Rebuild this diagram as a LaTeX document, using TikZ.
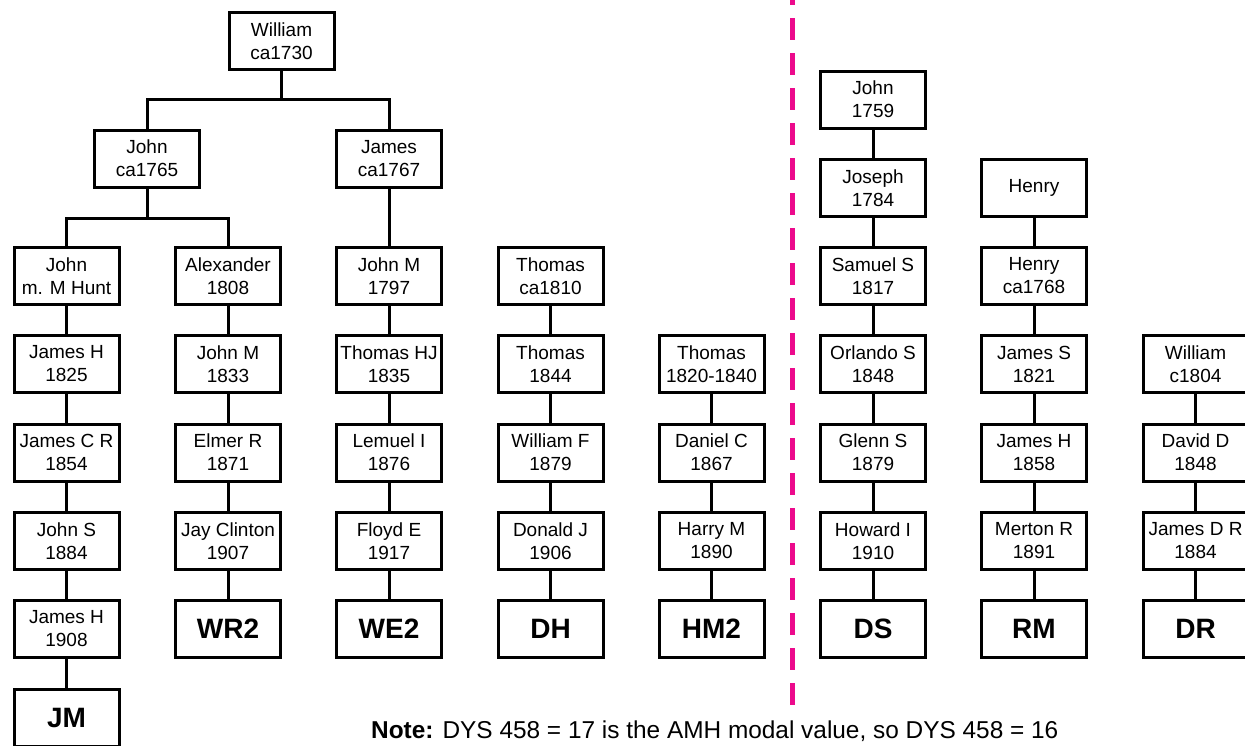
\documentclass[tikz,border=0pt]{standalone}
\usepackage{fontspec}
\setmainfont{Liberation Sans}
\definecolor{divpink}{HTML}{EC0A8C}
\begin{document}
\begin{tikzpicture}[x=1pt,y=-1pt,
  pbox/.style={draw, line width=3pt, minimum width=105pt, minimum height=57pt, inner sep=0pt, align=center, font=\fontsize{19}{23}\selectfont},
  tbox/.style={pbox, font=\bfseries\fontsize{28}{30}\selectfont},
  link/.style={line width=3pt}]
\useasboundingbox (0,0) rectangle (1245,745);
% column and row positions
\def\ca{66.5}\def\cb{228}\def\cc{389}\def\cd{550.5}\def\ce{711.5}\def\cf{873}\def\cg{1034}\def\ch{1195.5}
\def\rc{276}\def\rd{364}\def\re{452.5}\def\rf{541}\def\rg{629}\def\rh{717.5}
% top of tree
\node[pbox] (will) at (281.5,41) {William\\ca1730};
\node[pbox] (j65) at (147,158.5) {John\\ca1765};
\node[pbox] (j67) at (389,158.5) {James\\ca1767};
% column 1
\node[pbox] (a3) at (\ca,\rc) {John\\m. M Hunt};
\node[pbox] (a4) at (\ca,\rd) {James H\\1825};
\node[pbox] (a5) at (\ca,\re) {James C R\\1854};
\node[pbox] (a6) at (\ca,\rf) {John S\\1884};
\node[pbox] (a7) at (\ca,\rg) {James H\\1908};
\node[tbox] (a8) at (\ca,\rh) {JM};
% column 2
\node[pbox] (b3) at (\cb,\rc) {Alexander\\1808};
\node[pbox] (b4) at (\cb,\rd) {John M\\1833};
\node[pbox] (b5) at (\cb,\re) {Elmer R\\1871};
\node[pbox] (b6) at (\cb,\rf) {Jay Clinton\\1907};
\node[tbox] (b7) at (\cb,\rg) {WR2};
% column 3
\node[pbox] (c3) at (\cc,\rc) {John M\\1797};
\node[pbox] (c4) at (\cc,\rd) {Thomas HJ\\1835};
\node[pbox] (c5) at (\cc,\re) {Lemuel I\\1876};
\node[pbox] (c6) at (\cc,\rf) {Floyd E\\1917};
\node[tbox] (c7) at (\cc,\rg) {WE2};
% column 4
\node[pbox] (d3) at (\cd,\rc) {Thomas\\ca1810};
\node[pbox] (d4) at (\cd,\rd) {Thomas\\1844};
\node[pbox] (d5) at (\cd,\re) {William F\\1879};
\node[pbox] (d6) at (\cd,\rf) {Donald J\\1906};
\node[tbox] (d7) at (\cd,\rg) {DH};
% column 5
\node[pbox] (e4) at (\ce,\rd) {Thomas\\1820-1840};
\node[pbox] (e5) at (\ce,\re) {Daniel C\\1867};
\node[pbox] (e6) at (\ce,\rf) {Harry M\\1890};
\node[tbox] (e7) at (\ce,\rg) {HM2};
% column 6
\node[pbox] (f1) at (\cf,99.5) {John\\1759};
\node[pbox] (f2) at (\cf,188) {Joseph\\1784};
\node[pbox] (f3) at (\cf,\rc) {Samuel S\\1817};
\node[pbox] (f4) at (\cf,\rd) {Orlando S\\1848};
\node[pbox] (f5) at (\cf,\re) {Glenn S\\1879};
\node[pbox] (f6) at (\cf,\rf) {Howard I\\1910};
\node[tbox] (f7) at (\cf,\rg) {DS};
% column 7
\node[pbox] (g2) at (\cg,188) {Henry};
\node[pbox] (g3) at (\cg,\rc) {Henry\\ca1768};
\node[pbox] (g4) at (\cg,\rd) {James S\\1821};
\node[pbox] (g5) at (\cg,\re) {James H\\1858};
\node[pbox] (g6) at (\cg,\rf) {Merton R\\1891};
\node[tbox] (g7) at (\cg,\rg) {RM};
% column 8
\node[pbox] (h4) at (\ch,\rd) {William\\c1804};
\node[pbox] (h5) at (\ch,\re) {David D\\1848};
\node[pbox] (h6) at (\ch,\rf) {James D R\\1884};
\node[tbox] (h7) at (\ch,\rg) {DR};
% branch points
\coordinate (br1) at (281.5,99);
\coordinate (br2) at (147,218);
\draw[link] (will.south) -- (br1);
\draw[link] (j65.north) |- (br1) -| (j67.north);
\draw[link] (j65.south) -- (br2);
\draw[link] (a3.north) |- (br2) -| (b3.north);
\draw[link] (j67.south) -- (c3.north);
% vertical chains
\foreach \u/\v in {a3/a4,a4/a5,a5/a6,a6/a7,a7/a8,
                   b3/b4,b4/b5,b5/b6,b6/b7,
                   c3/c4,c4/c5,c5/c6,c6/c7,
                   d3/d4,d4/d5,d5/d6,d6/d7,
                   e4/e5,e5/e6,e6/e7,
                   f1/f2,f2/f3,f3/f4,f4/f5,f5/f6,f6/f7,
                   g2/g3,g3/g4,g4/g5,g5/g6,g6/g7,
                   h4/h5,h5/h6,h6/h7}
  \draw[link] (\u.south) -- (\v.north);
% divider
\draw[divpink, line width=5pt, dash pattern=on 22pt off 13pt] (792,-17) -- (792,708);
% note
\node[anchor=base west, inner sep=0pt, font=\fontsize{24.4}{28}\selectfont] (note) at (371,738)
  {\textbf{Note:} DYS 458 = 17 is the AMH modal value, so DYS 458 = 16};
\end{tikzpicture}
\end{document}
